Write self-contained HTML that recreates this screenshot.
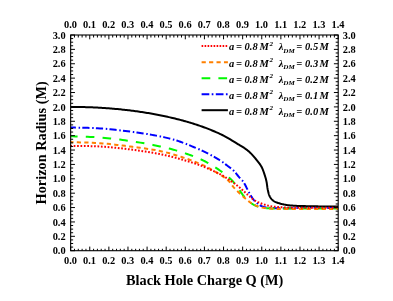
<!DOCTYPE html>
<html><head><meta charset="utf-8"><title>plot</title>
<style>html,body{margin:0;padding:0;background:#fff;}body{width:393px;height:301px;overflow:hidden;font-family:"Liberation Serif",serif;}</style></head>
<body>
<svg width="393" height="301" viewBox="0 0 393 301" style="display:block;will-change:transform">
<rect width="393" height="301" fill="#fff"/>
<clipPath id="c"><rect x="70.65" y="35.00" width="267.55" height="215.70"/></clipPath>
<g clip-path="url(#c)" fill="none">
<path d="M70.65 106.90 L71.92 106.92 L73.20 106.93 L74.47 106.95 L75.75 106.96 L77.02 106.97 L78.29 106.99 L79.57 107.00 L80.84 107.02 L82.12 107.04 L83.39 107.07 L84.66 107.09 L85.94 107.13 L87.21 107.17 L88.49 107.21 L89.76 107.26 L91.04 107.31 L92.31 107.36 L93.58 107.42 L94.86 107.48 L96.13 107.54 L97.41 107.61 L98.68 107.68 L99.95 107.75 L101.23 107.83 L102.50 107.91 L103.78 107.99 L105.05 108.07 L106.33 108.16 L107.60 108.26 L108.87 108.35 L110.15 108.45 L111.42 108.55 L112.70 108.66 L113.97 108.77 L115.24 108.88 L116.52 109.00 L117.79 109.12 L119.07 109.25 L120.34 109.37 L121.61 109.50 L122.89 109.64 L124.16 109.78 L125.44 109.92 L126.71 110.06 L127.99 110.21 L129.26 110.36 L130.53 110.52 L131.80 110.68 L133.08 110.85 L134.35 111.01 L135.63 111.18 L136.90 111.36 L138.18 111.54 L139.45 111.72 L140.73 111.91 L142.00 112.10 L143.27 112.29 L144.55 112.49 L145.82 112.70 L147.09 112.90 L148.37 113.11 L149.64 113.33 L150.92 113.55 L152.20 113.77 L153.47 114.00 L154.74 114.23 L156.02 114.47 L157.29 114.71 L158.57 114.96 L159.84 115.21 L161.11 115.46 L162.38 115.72 L163.66 115.99 L164.93 116.26 L166.21 116.54 L167.49 116.81 L168.76 117.10 L170.04 117.39 L171.31 117.68 L172.58 117.98 L173.86 118.28 L175.13 118.59 L176.40 118.91 L177.67 119.23 L178.95 119.56 L180.23 119.89 L181.50 120.23 L182.78 120.58 L184.05 120.93 L185.33 121.28 L186.60 121.64 L187.88 122.01 L189.15 122.39 L190.42 122.77 L191.69 123.16 L192.96 123.55 L194.24 123.96 L195.52 124.37 L196.80 124.79 L198.07 125.22 L199.35 125.65 L200.63 126.09 L201.90 126.53 L203.17 126.99 L204.45 127.45 L205.71 127.93 L206.98 128.41 L208.25 128.90 L209.53 129.41 L210.81 129.93 L212.10 130.45 L213.38 130.98 L214.66 131.53 L215.93 132.08 L217.21 132.64 L218.48 133.21 L219.75 133.80 L221.02 134.41 L222.28 135.02 L223.54 135.66 L224.85 136.35 L226.20 137.09 L227.57 137.86 L228.95 138.66 L230.33 139.48 L231.69 140.29 L233.03 141.10 L234.32 141.89 L235.56 142.65 L236.73 143.37 L237.82 144.04 L238.82 144.65 L239.38 144.98 L239.90 145.29 L240.39 145.57 L240.85 145.84 L241.30 146.10 L241.73 146.36 L242.16 146.61 L242.57 146.86 L242.99 147.13 L243.42 147.40 L243.85 147.69 L244.30 148.00 L244.81 148.36 L245.32 148.73 L245.84 149.11 L246.36 149.50 L246.88 149.90 L247.40 150.30 L247.91 150.72 L248.42 151.14 L248.93 151.57 L249.43 152.01 L249.92 152.45 L250.40 152.90 L250.88 153.37 L251.35 153.84 L251.81 154.33 L252.27 154.82 L252.72 155.32 L253.16 155.82 L253.61 156.34 L254.04 156.86 L254.48 157.38 L254.92 157.92 L255.36 158.46 L255.80 159.00 L256.28 159.59 L256.77 160.19 L257.27 160.80 L257.77 161.42 L258.26 162.04 L258.75 162.67 L259.24 163.31 L259.71 163.95 L260.16 164.60 L260.60 165.26 L261.01 165.93 L261.40 166.60 L261.75 167.27 L262.09 167.95 L262.41 168.65 L262.71 169.36 L262.99 170.08 L263.27 170.79 L263.53 171.51 L263.78 172.23 L264.02 172.94 L264.25 173.64 L264.48 174.33 L264.70 175.00 L264.89 175.57 L265.06 176.13 L265.23 176.68 L265.40 177.22 L265.55 177.75 L265.70 178.29 L265.84 178.82 L265.98 179.36 L266.12 179.91 L266.25 180.46 L266.37 181.02 L266.50 181.60 L266.63 182.26 L266.75 182.94 L266.85 183.63 L266.95 184.33 L267.05 185.04 L267.14 185.75 L267.23 186.46 L267.32 187.17 L267.43 187.88 L267.54 188.57 L267.66 189.24 L267.80 189.90 L267.93 190.49 L268.06 191.07 L268.20 191.66 L268.33 192.24 L268.47 192.81 L268.62 193.38 L268.78 193.94 L268.95 194.48 L269.14 195.01 L269.34 195.53 L269.56 196.02 L269.80 196.50 L270.03 196.91 L270.27 197.31 L270.51 197.70 L270.77 198.08 L271.04 198.44 L271.32 198.80 L271.61 199.15 L271.92 199.48 L272.24 199.80 L272.58 200.11 L272.93 200.41 L273.30 200.70 L273.75 201.01 L274.22 201.30 L274.72 201.58 L275.23 201.83 L275.77 202.07 L276.32 202.30 L276.89 202.52 L277.47 202.73 L278.07 202.93 L278.67 203.12 L279.28 203.31 L279.90 203.50 L280.65 203.72 L281.42 203.92 L282.21 204.11 L283.01 204.29 L283.83 204.46 L284.67 204.62 L285.52 204.77 L286.39 204.91 L287.27 205.05 L288.17 205.17 L289.08 205.29 L290.00 205.40 L291.14 205.52 L292.32 205.62 L293.54 205.71 L294.77 205.78 L296.03 205.84 L297.31 205.88 L298.59 205.93 L299.89 205.96 L301.18 205.99 L302.46 206.03 L303.74 206.06 L305.00 206.10 L306.25 206.14 L307.48 206.17 L308.72 206.21 L309.95 206.23 L311.18 206.26 L312.41 206.28 L313.65 206.30 L314.89 206.32 L316.15 206.34 L317.42 206.36 L318.70 206.38 L320.00 206.40 L321.46 206.42 L322.93 206.44 L324.43 206.46 L325.94 206.48 L327.46 206.49 L328.99 206.51 L330.53 206.52 L332.07 206.54 L333.61 206.55 L335.15 206.57 L336.68 206.58 L338.20 206.60" stroke="#000000" stroke-width="2.00"/>
<path d="M70.30 127.50 L72.77 127.57 L75.25 127.62 L77.72 127.67 L80.20 127.72 L82.67 127.76 L85.15 127.81 L87.62 127.86 L90.09 127.93 L92.57 128.02 L95.05 128.12 L97.52 128.25 L100.00 128.40 L102.52 128.58 L105.07 128.80 L107.64 129.03 L110.22 129.28 L112.80 129.55 L115.38 129.83 L117.93 130.12 L120.45 130.42 L122.93 130.72 L125.35 131.02 L127.71 131.31 L130.00 131.60 L131.80 131.83 L133.55 132.05 L135.24 132.26 L136.89 132.48 L138.52 132.70 L140.13 132.92 L141.73 133.15 L143.33 133.39 L144.95 133.64 L146.59 133.91 L148.27 134.19 L150.00 134.50 L152.00 134.87 L154.05 135.25 L156.14 135.64 L158.26 136.05 L160.39 136.47 L162.54 136.92 L164.68 137.38 L166.81 137.86 L168.92 138.36 L170.99 138.89 L173.02 139.43 L175.00 140.00 L176.78 140.55 L178.55 141.13 L180.30 141.74 L182.04 142.37 L183.77 143.02 L185.47 143.68 L187.14 144.34 L188.78 145.01 L190.40 145.68 L191.97 146.33 L193.51 146.98 L195.00 147.60 L196.17 148.09 L197.30 148.57 L198.40 149.04 L199.47 149.51 L200.52 149.98 L201.56 150.44 L202.58 150.91 L203.60 151.39 L204.62 151.87 L205.64 152.37 L206.66 152.87 L207.70 153.40 L208.78 153.96 L209.88 154.53 L210.98 155.12 L212.09 155.71 L213.19 156.32 L214.29 156.94 L215.38 157.55 L216.44 158.17 L217.49 158.79 L218.50 159.40 L219.47 160.01 L220.40 160.60 L221.12 161.08 L221.82 161.55 L222.50 162.03 L223.16 162.51 L223.81 162.99 L224.44 163.47 L225.06 163.94 L225.66 164.40 L226.26 164.87 L226.85 165.32 L227.43 165.76 L228.00 166.20 L228.47 166.55 L228.93 166.88 L229.38 167.20 L229.82 167.52 L230.25 167.83 L230.68 168.13 L231.10 168.45 L231.52 168.77 L231.94 169.10 L232.36 169.44 L232.78 169.81 L233.20 170.20 L233.69 170.68 L234.18 171.20 L234.66 171.74 L235.15 172.31 L235.63 172.89 L236.11 173.48 L236.59 174.07 L237.06 174.67 L237.53 175.25 L237.99 175.82 L238.45 176.37 L238.90 176.90 L239.28 177.33 L239.66 177.73 L240.04 178.12 L240.40 178.50 L240.77 178.86 L241.13 179.23 L241.49 179.61 L241.85 180.00 L242.21 180.40 L242.57 180.84 L242.94 181.30 L243.30 181.80 L243.81 182.57 L244.33 183.43 L244.84 184.35 L245.35 185.32 L245.87 186.33 L246.38 187.36 L246.89 188.40 L247.40 189.43 L247.90 190.44 L248.41 191.42 L248.91 192.34 L249.40 193.20 L249.79 193.85 L250.17 194.49 L250.54 195.11 L250.92 195.72 L251.28 196.32 L251.65 196.90 L252.03 197.47 L252.40 198.02 L252.79 198.56 L253.18 199.09 L253.58 199.60 L254.00 200.10 L254.39 200.54 L254.78 200.97 L255.18 201.38 L255.59 201.79 L256.00 202.19 L256.42 202.57 L256.84 202.95 L257.26 203.30 L257.69 203.65 L258.13 203.98 L258.56 204.30 L259.00 204.60 L259.40 204.86 L259.79 205.11 L260.18 205.35 L260.58 205.57 L260.98 205.79 L261.38 205.99 L261.79 206.18 L262.21 206.36 L262.64 206.54 L263.08 206.70 L263.53 206.85 L264.00 207.00 L264.58 207.16 L265.15 207.29 L265.73 207.41 L266.33 207.51 L266.93 207.60 L267.56 207.67 L268.21 207.74 L268.89 207.79 L269.60 207.84 L270.36 207.90 L271.15 207.95 L272.00 208.00 L273.72 208.09 L275.63 208.15 L277.70 208.19 L279.91 208.21 L282.24 208.21 L284.66 208.20 L287.16 208.18 L289.71 208.16 L292.30 208.14 L294.88 208.12 L297.46 208.10 L300.00 208.10 L302.98 208.10 L306.02 208.11 L309.13 208.11 L312.29 208.11 L315.50 208.11 L318.73 208.11 L321.98 208.11 L325.25 208.10 L328.51 208.10 L331.76 208.10 L335.00 208.10 L338.20 208.10" stroke="#0000ff" stroke-width="2.00" stroke-dasharray="7.2 2.7 1.5 2.2" stroke-dashoffset="1.6"/>
<path d="M70.30 136.20 L72.77 136.30 L75.25 136.39 L77.72 136.47 L80.20 136.55 L82.67 136.63 L85.15 136.71 L87.62 136.80 L90.10 136.91 L92.57 137.02 L95.05 137.16 L97.52 137.32 L100.00 137.50 L102.50 137.71 L105.00 137.93 L107.50 138.18 L110.00 138.43 L112.50 138.71 L115.00 139.00 L117.51 139.30 L120.01 139.61 L122.51 139.94 L125.01 140.28 L127.50 140.64 L130.00 141.00 L132.52 141.38 L135.08 141.78 L137.66 142.19 L140.24 142.62 L142.83 143.07 L145.40 143.52 L147.95 143.98 L150.47 144.46 L152.94 144.94 L155.36 145.42 L157.72 145.91 L160.00 146.40 L161.81 146.80 L163.58 147.20 L165.30 147.60 L166.98 148.00 L168.63 148.40 L170.26 148.82 L171.87 149.24 L173.48 149.67 L175.09 150.12 L176.71 150.59 L178.34 151.09 L180.00 151.60 L181.75 152.16 L183.53 152.74 L185.32 153.34 L187.12 153.96 L188.92 154.60 L190.72 155.25 L192.50 155.92 L194.26 156.60 L195.98 157.29 L197.67 157.98 L199.31 158.69 L200.90 159.40 L202.22 160.01 L203.51 160.63 L204.76 161.25 L206.00 161.88 L207.21 162.52 L208.40 163.17 L209.57 163.83 L210.73 164.49 L211.88 165.17 L213.02 165.87 L214.16 166.58 L215.30 167.30 L216.43 168.04 L217.58 168.82 L218.73 169.63 L219.88 170.47 L221.03 171.31 L222.15 172.16 L223.25 173.00 L224.31 173.82 L225.32 174.63 L226.28 175.40 L227.18 176.12 L228.00 176.80 L228.47 177.19 L228.91 177.55 L229.32 177.89 L229.71 178.22 L230.08 178.54 L230.44 178.85 L230.79 179.16 L231.13 179.49 L231.48 179.83 L231.84 180.19 L232.21 180.58 L232.60 181.00 L233.16 181.63 L233.73 182.33 L234.32 183.07 L234.92 183.86 L235.53 184.67 L236.14 185.50 L236.74 186.34 L237.33 187.17 L237.91 187.98 L238.46 188.76 L239.00 189.51 L239.50 190.20 L239.85 190.69 L240.19 191.16 L240.50 191.62 L240.81 192.07 L241.10 192.50 L241.39 192.93 L241.68 193.35 L241.98 193.78 L242.28 194.20 L242.60 194.63 L242.94 195.06 L243.30 195.50 L243.74 196.03 L244.20 196.57 L244.68 197.12 L245.17 197.67 L245.68 198.23 L246.19 198.78 L246.72 199.32 L247.25 199.86 L247.79 200.38 L248.32 200.88 L248.86 201.35 L249.40 201.80 L249.89 202.19 L250.38 202.56 L250.87 202.92 L251.37 203.27 L251.87 203.60 L252.38 203.92 L252.89 204.23 L253.40 204.53 L253.92 204.82 L254.44 205.09 L254.97 205.35 L255.50 205.60 L256.02 205.83 L256.54 206.04 L257.07 206.25 L257.59 206.44 L258.13 206.61 L258.66 206.78 L259.21 206.94 L259.75 207.09 L260.30 207.22 L260.86 207.36 L261.43 207.48 L262.00 207.60 L262.62 207.72 L263.22 207.82 L263.81 207.91 L264.40 207.99 L265.00 208.06 L265.62 208.12 L266.25 208.18 L266.92 208.22 L267.62 208.27 L268.36 208.31 L269.15 208.36 L270.00 208.40 L271.82 208.48 L273.85 208.53 L276.07 208.56 L278.45 208.58 L280.96 208.58 L283.58 208.57 L286.27 208.56 L289.02 208.54 L291.80 208.53 L294.57 208.51 L297.31 208.50 L300.00 208.50 L303.02 208.50 L306.10 208.51 L309.23 208.51 L312.39 208.51 L315.59 208.51 L318.81 208.51 L322.05 208.51 L325.30 208.50 L328.54 208.50 L331.78 208.50 L335.00 208.50 L338.20 208.50" stroke="#00f800" stroke-width="2.00" stroke-dasharray="8.6 8.2" stroke-dashoffset="1.3"/>
<path d="M70.30 142.10 L72.77 142.18 L75.25 142.26 L77.72 142.32 L80.20 142.39 L82.67 142.45 L85.15 142.51 L87.62 142.59 L90.09 142.67 L92.57 142.77 L95.05 142.89 L97.52 143.03 L100.00 143.20 L102.50 143.39 L105.00 143.61 L107.50 143.84 L110.00 144.09 L112.50 144.36 L115.00 144.64 L117.50 144.93 L120.00 145.23 L122.50 145.54 L125.00 145.86 L127.50 146.18 L130.00 146.50 L132.52 146.83 L135.08 147.15 L137.65 147.49 L140.24 147.82 L142.83 148.17 L145.40 148.53 L147.96 148.90 L150.47 149.28 L152.95 149.68 L155.37 150.10 L157.72 150.54 L160.00 151.00 L161.82 151.40 L163.58 151.80 L165.30 152.22 L166.98 152.64 L168.63 153.08 L170.26 153.53 L171.88 153.99 L173.48 154.47 L175.09 154.95 L176.71 155.45 L178.34 155.97 L180.00 156.50 L181.75 157.07 L183.52 157.65 L185.32 158.25 L187.12 158.87 L188.92 159.50 L190.71 160.14 L192.49 160.80 L194.25 161.46 L195.98 162.14 L197.67 162.82 L199.31 163.51 L200.90 164.20 L202.22 164.80 L203.50 165.40 L204.76 166.01 L205.99 166.62 L207.19 167.24 L208.38 167.87 L209.55 168.50 L210.72 169.14 L211.87 169.79 L213.01 170.45 L214.16 171.12 L215.30 171.80 L216.42 172.47 L217.55 173.14 L218.69 173.82 L219.83 174.51 L220.96 175.21 L222.07 175.91 L223.16 176.62 L224.22 177.34 L225.24 178.07 L226.22 178.81 L227.14 179.55 L228.00 180.30 L228.64 180.91 L229.23 181.54 L229.79 182.18 L230.32 182.82 L230.82 183.47 L231.30 184.13 L231.77 184.78 L232.24 185.42 L232.71 186.06 L233.19 186.69 L233.68 187.30 L234.20 187.90 L234.70 188.44 L235.20 188.98 L235.70 189.51 L236.21 190.03 L236.71 190.54 L237.22 191.05 L237.73 191.55 L238.24 192.04 L238.76 192.54 L239.27 193.03 L239.78 193.51 L240.30 194.00 L240.80 194.47 L241.30 194.94 L241.81 195.40 L242.31 195.87 L242.82 196.32 L243.33 196.78 L243.83 197.23 L244.34 197.67 L244.86 198.11 L245.37 198.55 L245.88 198.98 L246.40 199.40 L246.90 199.80 L247.38 200.21 L247.87 200.60 L248.35 201.00 L248.84 201.39 L249.32 201.78 L249.82 202.15 L250.33 202.52 L250.84 202.88 L251.38 203.23 L251.93 203.57 L252.50 203.90 L253.17 204.26 L253.86 204.61 L254.57 204.94 L255.30 205.27 L256.04 205.59 L256.80 205.89 L257.57 206.18 L258.35 206.45 L259.15 206.71 L259.96 206.96 L260.77 207.19 L261.60 207.40 L262.53 207.61 L263.47 207.80 L264.41 207.96 L265.37 208.11 L266.34 208.23 L267.33 208.34 L268.34 208.43 L269.38 208.51 L270.45 208.59 L271.56 208.66 L272.71 208.73 L273.90 208.80 L275.72 208.89 L277.63 208.95 L279.62 208.99 L281.69 209.01 L283.83 209.01 L286.03 209.00 L288.28 208.98 L290.57 208.96 L292.90 208.94 L295.25 208.92 L297.62 208.90 L300.00 208.90 L302.93 208.90 L305.95 208.91 L309.04 208.91 L312.20 208.91 L315.40 208.91 L318.65 208.91 L321.92 208.91 L325.20 208.90 L328.48 208.90 L331.75 208.90 L334.99 208.90 L338.20 208.90" stroke="#ff8000" stroke-width="2.00" stroke-dasharray="4.2 3.3" stroke-dashoffset="1"/>
<path d="M70.30 145.90 L72.77 145.94 L75.25 145.97 L77.72 146.00 L80.20 146.02 L82.67 146.04 L85.14 146.06 L87.62 146.09 L90.09 146.13 L92.57 146.19 L95.05 146.27 L97.52 146.37 L100.00 146.50 L102.50 146.66 L105.00 146.83 L107.50 147.02 L110.00 147.23 L112.50 147.45 L115.00 147.69 L117.50 147.95 L120.01 148.22 L122.51 148.50 L125.01 148.79 L127.50 149.09 L130.00 149.40 L132.52 149.72 L135.08 150.06 L137.65 150.42 L140.24 150.78 L142.83 151.16 L145.40 151.55 L147.95 151.95 L150.47 152.37 L152.94 152.79 L155.36 153.22 L157.72 153.65 L160.00 154.10 L161.81 154.47 L163.58 154.85 L165.29 155.23 L166.97 155.61 L168.62 156.00 L170.25 156.40 L171.86 156.81 L173.47 157.22 L175.08 157.65 L176.70 158.09 L178.34 158.54 L180.00 159.00 L181.74 159.49 L183.48 159.98 L185.23 160.49 L186.99 161.00 L188.75 161.52 L190.51 162.06 L192.26 162.61 L194.01 163.17 L195.75 163.75 L197.48 164.35 L199.20 164.96 L200.90 165.60 L202.60 166.26 L204.35 166.97 L206.12 167.72 L207.90 168.49 L209.68 169.27 L211.43 170.06 L213.13 170.85 L214.78 171.62 L216.35 172.37 L217.82 173.09 L219.17 173.77 L220.40 174.40 L221.04 174.73 L221.63 175.05 L222.17 175.35 L222.69 175.64 L223.18 175.93 L223.65 176.21 L224.11 176.49 L224.56 176.77 L225.02 177.06 L225.49 177.36 L225.98 177.67 L226.50 178.00 L227.12 178.40 L227.74 178.80 L228.38 179.22 L229.02 179.65 L229.67 180.09 L230.32 180.53 L230.97 180.98 L231.62 181.44 L232.28 181.90 L232.92 182.36 L233.56 182.83 L234.20 183.30 L234.84 183.78 L235.48 184.27 L236.12 184.76 L236.76 185.26 L237.40 185.76 L238.03 186.27 L238.66 186.78 L239.29 187.30 L239.92 187.82 L240.55 188.34 L241.17 188.87 L241.80 189.40 L242.44 189.96 L243.08 190.53 L243.73 191.12 L244.37 191.71 L245.01 192.31 L245.65 192.91 L246.28 193.51 L246.92 194.10 L247.54 194.68 L248.17 195.24 L248.79 195.78 L249.40 196.30 L249.92 196.73 L250.43 197.16 L250.93 197.57 L251.42 197.98 L251.91 198.38 L252.40 198.77 L252.89 199.15 L253.39 199.52 L253.90 199.88 L254.42 200.23 L254.95 200.57 L255.50 200.90 L256.09 201.23 L256.70 201.55 L257.33 201.86 L257.96 202.16 L258.61 202.45 L259.26 202.73 L259.91 202.99 L260.57 203.25 L261.23 203.50 L261.89 203.74 L262.55 203.97 L263.20 204.20 L263.82 204.41 L264.43 204.61 L265.03 204.80 L265.63 204.99 L266.23 205.16 L266.83 205.33 L267.45 205.49 L268.08 205.64 L268.72 205.79 L269.39 205.93 L270.08 206.07 L270.80 206.20 L271.82 206.37 L272.90 206.52 L274.02 206.66 L275.18 206.79 L276.37 206.91 L277.59 207.01 L278.82 207.11 L280.07 207.20 L281.31 207.28 L282.56 207.36 L283.79 207.43 L285.00 207.50 L286.21 207.56 L287.39 207.61 L288.56 207.65 L289.71 207.69 L290.87 207.71 L292.04 207.73 L293.24 207.74 L294.47 207.76 L295.76 207.77 L297.10 207.78 L298.51 207.79 L300.00 207.80 L302.57 207.82 L305.35 207.83 L308.32 207.84 L311.43 207.84 L314.67 207.84 L318.00 207.84 L321.40 207.83 L324.82 207.82 L328.24 207.81 L331.63 207.81 L334.96 207.80 L338.20 207.80" stroke="#ff0000" stroke-width="2.00" stroke-dasharray="1.7 1.7" stroke-dashoffset="0"/>
</g>
<rect x="70.65" y="35.00" width="267.55" height="215.70" fill="none" stroke="#000" stroke-width="1.1"/>
<path d="M70.65 35.00v4.30M70.65 250.70v-4.10M74.47 35.00v2.50M74.47 250.70v-1.90M78.29 35.00v2.50M78.29 250.70v-1.90M82.12 35.00v2.50M82.12 250.70v-1.90M85.94 35.00v2.50M85.94 250.70v-1.90M89.76 35.00v4.30M89.76 250.70v-4.10M93.58 35.00v2.50M93.58 250.70v-1.90M97.41 35.00v2.50M97.41 250.70v-1.90M101.23 35.00v2.50M101.23 250.70v-1.90M105.05 35.00v2.50M105.05 250.70v-1.90M108.87 35.00v4.30M108.87 250.70v-4.10M112.69 35.00v2.50M112.69 250.70v-1.90M116.52 35.00v2.50M116.52 250.70v-1.90M120.34 35.00v2.50M120.34 250.70v-1.90M124.16 35.00v2.50M124.16 250.70v-1.90M127.98 35.00v4.30M127.98 250.70v-4.10M131.80 35.00v2.50M131.80 250.70v-1.90M135.63 35.00v2.50M135.63 250.70v-1.90M139.45 35.00v2.50M139.45 250.70v-1.90M143.27 35.00v2.50M143.27 250.70v-1.90M147.09 35.00v4.30M147.09 250.70v-4.10M150.91 35.00v2.50M150.91 250.70v-1.90M154.74 35.00v2.50M154.74 250.70v-1.90M158.56 35.00v2.50M158.56 250.70v-1.90M162.38 35.00v2.50M162.38 250.70v-1.90M166.20 35.00v4.30M166.20 250.70v-4.10M170.03 35.00v2.50M170.03 250.70v-1.90M173.85 35.00v2.50M173.85 250.70v-1.90M177.67 35.00v2.50M177.67 250.70v-1.90M181.49 35.00v2.50M181.49 250.70v-1.90M185.31 35.00v4.30M185.31 250.70v-4.10M189.14 35.00v2.50M189.14 250.70v-1.90M192.96 35.00v2.50M192.96 250.70v-1.90M196.78 35.00v2.50M196.78 250.70v-1.90M200.60 35.00v2.50M200.60 250.70v-1.90M204.43 35.00v4.30M204.43 250.70v-4.10M208.25 35.00v2.50M208.25 250.70v-1.90M212.07 35.00v2.50M212.07 250.70v-1.90M215.89 35.00v2.50M215.89 250.70v-1.90M219.71 35.00v2.50M219.71 250.70v-1.90M223.54 35.00v4.30M223.54 250.70v-4.10M227.36 35.00v2.50M227.36 250.70v-1.90M231.18 35.00v2.50M231.18 250.70v-1.90M235.00 35.00v2.50M235.00 250.70v-1.90M238.82 35.00v2.50M238.82 250.70v-1.90M242.65 35.00v4.30M242.65 250.70v-4.10M246.47 35.00v2.50M246.47 250.70v-1.90M250.29 35.00v2.50M250.29 250.70v-1.90M254.11 35.00v2.50M254.11 250.70v-1.90M257.93 35.00v2.50M257.93 250.70v-1.90M261.76 35.00v4.30M261.76 250.70v-4.10M265.58 35.00v2.50M265.58 250.70v-1.90M269.40 35.00v2.50M269.40 250.70v-1.90M273.22 35.00v2.50M273.22 250.70v-1.90M277.05 35.00v2.50M277.05 250.70v-1.90M280.87 35.00v4.30M280.87 250.70v-4.10M284.69 35.00v2.50M284.69 250.70v-1.90M288.51 35.00v2.50M288.51 250.70v-1.90M292.33 35.00v2.50M292.33 250.70v-1.90M296.16 35.00v2.50M296.16 250.70v-1.90M299.98 35.00v4.30M299.98 250.70v-4.10M303.80 35.00v2.50M303.80 250.70v-1.90M307.62 35.00v2.50M307.62 250.70v-1.90M311.44 35.00v2.50M311.44 250.70v-1.90M315.27 35.00v2.50M315.27 250.70v-1.90M319.09 35.00v4.30M319.09 250.70v-4.10M322.91 35.00v2.50M322.91 250.70v-1.90M326.73 35.00v2.50M326.73 250.70v-1.90M330.56 35.00v2.50M330.56 250.70v-1.90M334.38 35.00v2.50M334.38 250.70v-1.90M338.20 35.00v4.30M338.20 250.70v-4.10M70.65 250.70h4.30M338.20 250.70h-4.30M70.65 247.10h2.50M338.20 247.10h-2.50M70.65 243.51h2.50M338.20 243.51h-2.50M70.65 239.91h2.50M338.20 239.91h-2.50M70.65 236.32h4.30M338.20 236.32h-4.30M70.65 232.72h2.50M338.20 232.72h-2.50M70.65 229.13h2.50M338.20 229.13h-2.50M70.65 225.53h2.50M338.20 225.53h-2.50M70.65 221.94h4.30M338.20 221.94h-4.30M70.65 218.34h2.50M338.20 218.34h-2.50M70.65 214.75h2.50M338.20 214.75h-2.50M70.65 211.15h2.50M338.20 211.15h-2.50M70.65 207.56h4.30M338.20 207.56h-4.30M70.65 203.97h2.50M338.20 203.97h-2.50M70.65 200.37h2.50M338.20 200.37h-2.50M70.65 196.78h2.50M338.20 196.78h-2.50M70.65 193.18h4.30M338.20 193.18h-4.30M70.65 189.58h2.50M338.20 189.58h-2.50M70.65 185.99h2.50M338.20 185.99h-2.50M70.65 182.39h2.50M338.20 182.39h-2.50M70.65 178.80h4.30M338.20 178.80h-4.30M70.65 175.20h2.50M338.20 175.20h-2.50M70.65 171.61h2.50M338.20 171.61h-2.50M70.65 168.01h2.50M338.20 168.01h-2.50M70.65 164.42h4.30M338.20 164.42h-4.30M70.65 160.82h2.50M338.20 160.82h-2.50M70.65 157.23h2.50M338.20 157.23h-2.50M70.65 153.63h2.50M338.20 153.63h-2.50M70.65 150.04h4.30M338.20 150.04h-4.30M70.65 146.44h2.50M338.20 146.44h-2.50M70.65 142.85h2.50M338.20 142.85h-2.50M70.65 139.25h2.50M338.20 139.25h-2.50M70.65 135.66h4.30M338.20 135.66h-4.30M70.65 132.06h2.50M338.20 132.06h-2.50M70.65 128.47h2.50M338.20 128.47h-2.50M70.65 124.88h2.50M338.20 124.88h-2.50M70.65 121.28h4.30M338.20 121.28h-4.30M70.65 117.68h2.50M338.20 117.68h-2.50M70.65 114.09h2.50M338.20 114.09h-2.50M70.65 110.49h2.50M338.20 110.49h-2.50M70.65 106.90h4.30M338.20 106.90h-4.30M70.65 103.30h2.50M338.20 103.30h-2.50M70.65 99.71h2.50M338.20 99.71h-2.50M70.65 96.12h2.50M338.20 96.12h-2.50M70.65 92.52h4.30M338.20 92.52h-4.30M70.65 88.92h2.50M338.20 88.92h-2.50M70.65 85.33h2.50M338.20 85.33h-2.50M70.65 81.73h2.50M338.20 81.73h-2.50M70.65 78.14h4.30M338.20 78.14h-4.30M70.65 74.54h2.50M338.20 74.54h-2.50M70.65 70.95h2.50M338.20 70.95h-2.50M70.65 67.35h2.50M338.20 67.35h-2.50M70.65 63.76h4.30M338.20 63.76h-4.30M70.65 60.16h2.50M338.20 60.16h-2.50M70.65 56.57h2.50M338.20 56.57h-2.50M70.65 52.97h2.50M338.20 52.97h-2.50M70.65 49.38h4.30M338.20 49.38h-4.30M70.65 45.78h2.50M338.20 45.78h-2.50M70.65 42.19h2.50M338.20 42.19h-2.50M70.65 38.59h2.50M338.20 38.59h-2.50M70.65 35.00h4.30M338.20 35.00h-4.30" stroke="#000" stroke-width="1.0" fill="none"/>
<g font-family="'Liberation Serif', serif" font-weight="bold" font-size="10.4px" fill="#000">
<text x="70.45" y="27.90" text-anchor="middle">0.0</text>
<text x="70.45" y="264.20" text-anchor="middle">0.0</text>
<text x="89.56" y="27.90" text-anchor="middle">0.1</text>
<text x="89.56" y="264.20" text-anchor="middle">0.1</text>
<text x="108.67" y="27.90" text-anchor="middle">0.2</text>
<text x="108.67" y="264.20" text-anchor="middle">0.2</text>
<text x="127.78" y="27.90" text-anchor="middle">0.3</text>
<text x="127.78" y="264.20" text-anchor="middle">0.3</text>
<text x="146.89" y="27.90" text-anchor="middle">0.4</text>
<text x="146.89" y="264.20" text-anchor="middle">0.4</text>
<text x="166.00" y="27.90" text-anchor="middle">0.5</text>
<text x="166.00" y="264.20" text-anchor="middle">0.5</text>
<text x="185.11" y="27.90" text-anchor="middle">0.6</text>
<text x="185.11" y="264.20" text-anchor="middle">0.6</text>
<text x="204.23" y="27.90" text-anchor="middle">0.7</text>
<text x="204.23" y="264.20" text-anchor="middle">0.7</text>
<text x="223.34" y="27.90" text-anchor="middle">0.8</text>
<text x="223.34" y="264.20" text-anchor="middle">0.8</text>
<text x="242.45" y="27.90" text-anchor="middle">0.9</text>
<text x="242.45" y="264.20" text-anchor="middle">0.9</text>
<text x="261.56" y="27.90" text-anchor="middle">1.0</text>
<text x="261.56" y="264.20" text-anchor="middle">1.0</text>
<text x="280.67" y="27.90" text-anchor="middle">1.1</text>
<text x="280.67" y="264.20" text-anchor="middle">1.1</text>
<text x="299.78" y="27.90" text-anchor="middle">1.2</text>
<text x="299.78" y="264.20" text-anchor="middle">1.2</text>
<text x="318.89" y="27.90" text-anchor="middle">1.3</text>
<text x="318.89" y="264.20" text-anchor="middle">1.3</text>
<text x="338.00" y="27.90" text-anchor="middle">1.4</text>
<text x="338.00" y="264.20" text-anchor="middle">1.4</text>
<text x="65.65" y="254.30" text-anchor="end">0.0</text>
<text x="342.80" y="254.30" text-anchor="start">0.0</text>
<text x="65.65" y="239.92" text-anchor="end">0.2</text>
<text x="342.80" y="239.92" text-anchor="start">0.2</text>
<text x="65.65" y="225.54" text-anchor="end">0.4</text>
<text x="342.80" y="225.54" text-anchor="start">0.4</text>
<text x="65.65" y="211.16" text-anchor="end">0.6</text>
<text x="342.80" y="211.16" text-anchor="start">0.6</text>
<text x="65.65" y="196.78" text-anchor="end">0.8</text>
<text x="342.80" y="196.78" text-anchor="start">0.8</text>
<text x="65.65" y="182.40" text-anchor="end">1.0</text>
<text x="342.80" y="182.40" text-anchor="start">1.0</text>
<text x="65.65" y="168.02" text-anchor="end">1.2</text>
<text x="342.80" y="168.02" text-anchor="start">1.2</text>
<text x="65.65" y="153.64" text-anchor="end">1.4</text>
<text x="342.80" y="153.64" text-anchor="start">1.4</text>
<text x="65.65" y="139.26" text-anchor="end">1.6</text>
<text x="342.80" y="139.26" text-anchor="start">1.6</text>
<text x="65.65" y="124.88" text-anchor="end">1.8</text>
<text x="342.80" y="124.88" text-anchor="start">1.8</text>
<text x="65.65" y="110.50" text-anchor="end">2.0</text>
<text x="342.80" y="110.50" text-anchor="start">2.0</text>
<text x="65.65" y="96.12" text-anchor="end">2.2</text>
<text x="342.80" y="96.12" text-anchor="start">2.2</text>
<text x="65.65" y="81.74" text-anchor="end">2.4</text>
<text x="342.80" y="81.74" text-anchor="start">2.4</text>
<text x="65.65" y="67.36" text-anchor="end">2.6</text>
<text x="342.80" y="67.36" text-anchor="start">2.6</text>
<text x="65.65" y="52.98" text-anchor="end">2.8</text>
<text x="342.80" y="52.98" text-anchor="start">2.8</text>
<text x="65.65" y="38.60" text-anchor="end">3.0</text>
<text x="342.80" y="38.60" text-anchor="start">3.0</text>
</g>
<g font-family="'Liberation Serif', serif" font-weight="bold" font-size="14.3px" fill="#000">
<text x="204.7" y="284.6" text-anchor="middle">Black Hole Charge Q (M)</text>
<text transform="translate(45.6 142.9) rotate(-90)" text-anchor="middle">Horizon Radius (M)</text>
</g>
<g font-family="'Liberation Serif', serif" font-weight="bold" font-style="italic" font-size="10.5px" fill="#000">
<path d="M201.6 46.00H227.9" stroke="#ff0000" stroke-width="2.00" fill="none" stroke-dasharray="1.6 1.4"/>
<text x="228.90" y="50.35">a</text>
<text x="236.10" y="50.35">=</text>
<text x="244.60" y="50.35">0.8</text>
<text x="259.60" y="50.35">M</text>
<text x="269.50" y="46.15" font-size="7px">2</text>
<text x="278.80" y="50.35">λ</text>
<text x="283.30" y="53.05" font-size="7.1px">DM</text>
<text x="296.30" y="50.35">=</text>
<text x="305.00" y="50.35">0.5</text>
<text x="319.40" y="50.35">M</text>
<path d="M201.6 62.30H227.9" stroke="#ff8000" stroke-width="2.00" fill="none" stroke-dasharray="4.2 3.25"/>
<text x="228.90" y="66.65">a</text>
<text x="236.10" y="66.65">=</text>
<text x="244.60" y="66.65">0.8</text>
<text x="259.60" y="66.65">M</text>
<text x="269.50" y="62.45" font-size="7px">2</text>
<text x="278.80" y="66.65">λ</text>
<text x="283.30" y="69.35" font-size="7.1px">DM</text>
<text x="296.30" y="66.65">=</text>
<text x="305.00" y="66.65">0.3</text>
<text x="319.40" y="66.65">M</text>
<path d="M201.6 78.20H227.9" stroke="#00f800" stroke-width="2.00" fill="none" stroke-dasharray="8.7 8.1"/>
<text x="228.90" y="82.55">a</text>
<text x="236.10" y="82.55">=</text>
<text x="244.60" y="82.55">0.8</text>
<text x="259.60" y="82.55">M</text>
<text x="269.50" y="78.35" font-size="7px">2</text>
<text x="278.80" y="82.55">λ</text>
<text x="283.30" y="85.25" font-size="7.1px">DM</text>
<text x="296.30" y="82.55">=</text>
<text x="305.00" y="82.55">0.2</text>
<text x="319.40" y="82.55">M</text>
<path d="M201.6 94.30H227.9" stroke="#0000ff" stroke-width="2.00" fill="none" stroke-dasharray="7.7 2.4 1.7 2.4"/>
<text x="228.90" y="98.65">a</text>
<text x="236.10" y="98.65">=</text>
<text x="244.60" y="98.65">0.8</text>
<text x="259.60" y="98.65">M</text>
<text x="269.50" y="94.45" font-size="7px">2</text>
<text x="278.80" y="98.65">λ</text>
<text x="283.30" y="101.35" font-size="7.1px">DM</text>
<text x="296.30" y="98.65">=</text>
<text x="305.00" y="98.65">0.1</text>
<text x="319.40" y="98.65">M</text>
<path d="M201.6 110.20H227.9" stroke="#000000" stroke-width="2.00" fill="none"/>
<text x="228.90" y="114.55">a</text>
<text x="236.10" y="114.55">=</text>
<text x="244.60" y="114.55">0.8</text>
<text x="259.60" y="114.55">M</text>
<text x="269.50" y="110.35" font-size="7px">2</text>
<text x="278.80" y="114.55">λ</text>
<text x="283.30" y="117.25" font-size="7.1px">DM</text>
<text x="296.30" y="114.55">=</text>
<text x="305.00" y="114.55">0.0</text>
<text x="319.40" y="114.55">M</text>
</g>
</svg>
</body></html>
